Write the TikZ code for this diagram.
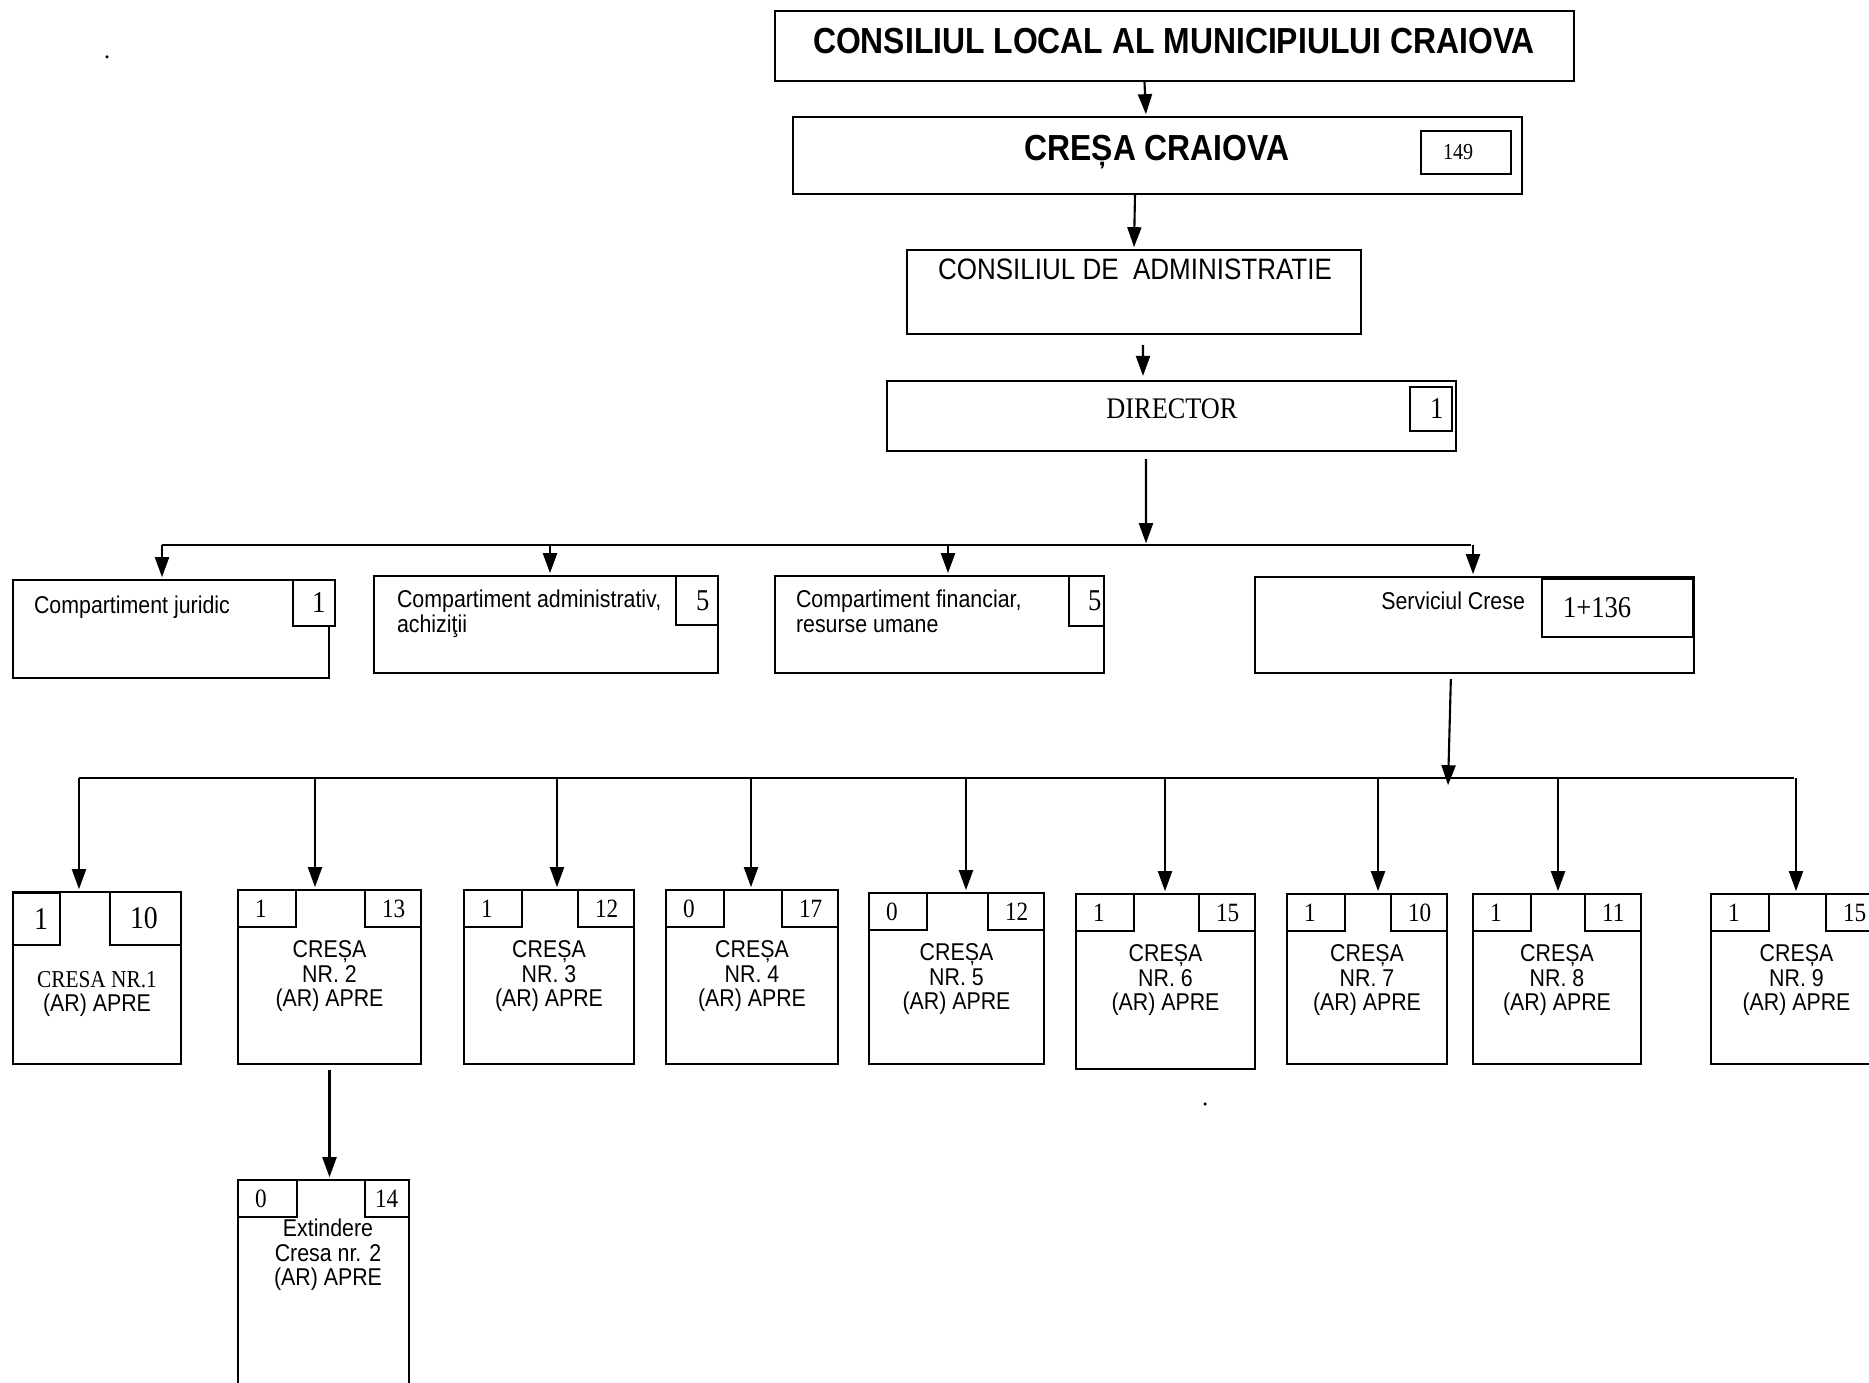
\documentclass[tikz,border=0pt]{standalone}
\usepackage{fontspec}
\setmainfont{Liberation Sans}[FakeStretch=0.88]
\newfontfamily\tnr{Liberation Serif}[FakeStretch=0.88]
\usetikzlibrary{arrows.meta,positioning,fit}

\begin{document}
\begin{tikzpicture}[>={Triangle[length=2mm,width=1.4mm]},shorten >=0.5pt,
  x=0.01cm,y=-0.01cm,semithick]
  \tikzstyle{box}=[draw,inner sep=0pt]
  \tikzstyle{head}=[inner sep=0pt,font=\fontsize{10.3}{12}\selectfont\bfseries]
  \tikzstyle{txt}=[inner sep=0pt,align=left,font=\fontsize{6.9}{7.1}\selectfont]
  \tikzstyle{crtxt}=[inner sep=0pt,align=center,font=\fontsize{6.9}{6.95}\selectfont]
  \tikzstyle{num}=[inner sep=0pt,font=\tnr\fontsize{8.6}{9}\selectfont]
  \tikzstyle{smallnum}=[inner sep=0pt,font=\tnr\fontsize{7.5}{9}\selectfont]

  \useasboundingbox (0,0) rectangle (1869,1383);
  \clip (0,0) rectangle (1869,1383);

  % conducere
  \node[box,fit={(775,11) (1574,81)}] (cl) {};
  \node[head,anchor=north] (clt) at (1174,27.5) {CONSILIUL LOCAL AL MUNICIPIULUI CRAIOVA};
  \node[box,fit={(793,117) (1522,194)}] (cc) {};
  \node[head,anchor=north] (cct) at (1157,134) {CREȘA CRAIOVA};
  \node[box,fit={(1421,131) (1511,174)}] (ncc) {};
  \node[num,font=\tnr\fontsize{6.5}{8}\selectfont,right=0.22cm of ncc.west] (ncct) {149};
  \node[box,fit={(907,250) (1361,334)}] (ca) {};
  \node[anchor=north,inner sep=0pt,font=\fontsize{8.4}{10}\selectfont] (cat) at (1135,257.5) {CONSILIUL DE\ \ ADMINISTRATIE};
  \node[box,fit={(887,381) (1456,451)}] (dir) {};
  \node[anchor=north,inner sep=0pt,font=\tnr\fontsize{8.5}{10}\selectfont] (dirt) at (1172,397.8) {DIRECTOR};
  \node[box,fit={(1410,387) (1452,431)}] (ndir) {};
  \node[num,right=0.2cm of ndir.west] (ndirt) {1};

  % compartimente
  \node[box,fit={(13,580) (329,678)}] (jur) {};
  \node[box,fill=white,fit={(293,580) (335,626)}] (njur) {};
  \node[txt,anchor=north west] (jurt) at (33,595.3) {Compartiment juridic};
  \node[num,right=0.19cm of njur.west] (njurt) {1};
  \node[box,fit={(374,576) (718,673)}] (adm) {};
  \node[box,fit={(676,576) (718,625)}] (nadm) {};
  \node[txt,anchor=north west] (admt) at (396,589.3) {Compartiment administrativ,\\achiziţii};
  \node[num,right=0.2cm of nadm.west] (nadmt) {5};
  \node[box,fit={(775,576) (1104,673)}] (fin) {};
  \node[box,fit={(1069,576) (1104,626)}] (nfin) {};
  \node[txt,anchor=north west] (fint) at (795,589.3) {Compartiment financiar,\\resurse umane};
  \node[num,right=0.19cm of nfin.west] (nfint) {5};
  \node[box,fit={(1255,577) (1694,673)}] (serv) {};
  \node[box,fit={(1542,579) (1693,637)}] (nserv) {};
  \node[txt,anchor=north east] (servt) at (1526,590.8) {Serviciul Crese};
  \node[num,right=0.21cm of nserv.west] (nservt) {1+136};

  % crese
  \node[box,fit={(13,892) (181,1064)}] (c1) {};
  \node[box,fit={(13,893) (60,945)}] (l1) {};
  \node[box,fit={(110,892) (181,945)}] (r1) {};
  \node[num,font=\tnr\fontsize{9}{10}\selectfont,right=0.21cm of l1.west] (lt1) {1};
  \node[num,font=\tnr\fontsize{9}{10}\selectfont,right=0.2cm of r1.west] (rt1) {10};
  \node[crtxt,below=0.79cm of c1.north] (t1) {{\tnr CRESA NR.1}\\(AR) APRE};
  \foreach \k/\xa/\xb/\ya/\yb/\na/\nb in {2/238/421/890/1064/1/13,3/464/634/890/1064/1/12,
      4/666/838/890/1064/0/17,5/869/1044/893/1064/0/12,6/1076/1255/894/1069/1/15,
      7/1287/1447/894/1064/1/10,8/1473/1641/894/1064/1/11,9/1711/1882/894/1064/1/15}{
    \node[box,fit={(\xa,\ya) (\xb,\yb)}] (c\k) {};
    \node[box,fit={(\xa,\ya) (\xa+58,\ya+37)}] (l\k) {};
    \node[box,fit={(\xb-56,\ya) (\xb,\ya+37)}] (r\k) {};
    \node[smallnum,right=0.17cm of l\k.west] (lt\k) {\na};
    \node[smallnum,right=0.17cm of r\k.west] (rt\k) {\nb};
    \node[crtxt,below=0.51cm of c\k.north] (t\k) {CREȘA\\NR. \k\\(AR) APRE};
  }
  \node[box,fit={(238,1180) (409,1400)}] (ext) {};
  \node[box,fit={(238,1180) (297,1217)}] (lext) {};
  \node[box,fit={(365,1180) (409,1217)}] (rext) {};
  \node[smallnum,right=0.17cm of lext.west] (ltext) {0};
  \node[smallnum,right=0.1cm of rext.west] (rtext) {14};
  \node[crtxt,below=0.39cm of ext.north,xshift=0.045cm] (text) {Extindere\\Cresa nr. 2\\(AR) APRE};

  % legaturi
  \draw[->] ([xshift=-0.3cm]cl.south) -- ([xshift=-0.115cm]cc.north);
  \draw[->] ([xshift=-0.225cm]cc.south) -- (ca.north);
  \draw[->,shorten <=0.1cm,shorten >=0.04cm] ([xshift=0.09cm]ca.south) -- ([xshift=-0.285cm]dir.north);
  \coordinate (b0) at (1146,545);
  \coordinate (bj) at (162,545);
  \coordinate (ba) at (550,545);
  \coordinate (bf) at (948,545);
  \coordinate (bs) at (1473,545);
  \draw[->,shorten <=0.07cm] ([xshift=-0.255cm]dir.south) -- (b0);
  \draw (bj) -- (bs);
  \draw[->] (bj) -- (bj |- jur.north);
  \draw[->] (ba) -- (ba |- adm.north);
  \draw[->] (bf) -- (bf |- fin.north);
  \draw[->] (bs) -- (bs |- serv.north);

  \coordinate (s0) at (1448,787);
  \draw[->,shorten <=0.05cm] ([xshift=-0.235cm]serv.south) -- (s0);
  \foreach \k/\x in {1/79,2/315,3/557,4/751,5/966,6/1165,7/1378,8/1558,9/1796}{
    \coordinate (d\k) at (\x,778);
    \draw[->] (d\k) -- (d\k |- c\k.north);
  }
  \draw (d1) -- (d9);
  \draw[->,shorten <=0.05cm] (c2.south) -- (c2.south |- ext.north);

  \fill (107,57) circle (0.5pt);
  \fill (1205,1104) circle (0.5pt);
\end{tikzpicture}
\end{document}
